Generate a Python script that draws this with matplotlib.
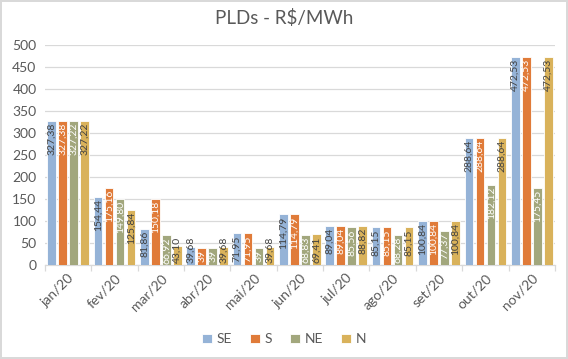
import numpy as np
import matplotlib
matplotlib.use("Agg")
import matplotlib.pyplot as plt

months = ["jan/20", "fev/20", "mar/20", "abr/20", "mai/20", "jun/20",
          "jul/20", "ago/20", "set/20", "out/20", "nov/20"]
series_names = ["SE", "S", "NE", "N"]
se = [327.38, 154.44, 81.86, 39.68, 71.95, 114.79, 89.04, 85.15, 100.84, 288.64, 472.53]
s = [327.38, 175.16, 150.18, 39.00, 71.95, 114.79, 89.04, 85.15, 100.84, 288.64, 472.53]
ne = [327.22, 149.80, 66.92, 39.00, 39.00, 68.83, 85.56, 68.28, 77.37, 182.12, 175.45]
n = [327.22, 125.84, 43.10, 39.68, 39.68, 69.41, 88.82, 85.15, 100.84, 288.64, 472.53]

colors = ["#95B3D7", "#E07B39", "#A2A77D", "#D9B25B"]
label_colors = ["#404040", "white", "white", "#404040"]
grey = "#595959"

plt.rcParams["font.family"] = ["Lato", "DejaVu Sans"]

fig = plt.figure(figsize=(5.68, 3.59), dpi=100)
fig.patch.set_edgecolor("#D9D9D9")
fig.patch.set_linewidth(1.5)
ax = fig.add_axes([0.079, 0.262, 0.898, 0.613])

x = np.arange(len(months))
step = 0.237
width = 0.185
px_per_unit = 220 / 500.0  # vertical pixels per data unit

for i, (name, vals) in enumerate(zip(series_names, [se, s, ne, n])):
    pos = x + (i - 1.5) * step
    ax.bar(pos, vals, width=width, color=colors[i], edgecolor="white",
           linewidth=0.6, label=name, zorder=3)
    for xp, v in zip(pos, vals):
        txt = f"{v:.2f}".replace(".", ",").replace(",00", "")
        text_len = (len(txt) * 5.0) / px_per_unit
        pad = 2.0 / px_per_unit
        if v - pad - text_len < pad:
            ax.text(xp, pad, txt, rotation=90, ha="center", va="bottom",
                    fontsize=7.5, color=label_colors[i], zorder=4)
        else:
            ax.text(xp, v - pad, txt, rotation=90, ha="center", va="top",
                    fontsize=7.5, color=label_colors[i], zorder=4)

ax.set_ylim(0, 500)
ax.set_xlim(-0.5, len(months) - 0.5)
ax.set_yticks(np.arange(0, 501, 50))
ax.yaxis.grid(True, color="#D9D9D9", linewidth=0.9, zorder=0)
ax.tick_params(axis="y", length=0, labelsize=10, labelcolor=grey, pad=6)

ax.set_xticks(x)
ax.set_xticklabels(months, rotation=45, ha="right", va="top",
                   rotation_mode="anchor", fontsize=10, color=grey)
ax.tick_params(axis="x", which="major", length=0, pad=5)
ax.set_xticks(np.arange(-0.5, len(months), 1.0), minor=True)
ax.tick_params(axis="x", which="minor", length=4, color="#D9D9D9", width=0.9)

for side in ["left", "right", "top"]:
    ax.spines[side].set_visible(False)
ax.spines["bottom"].set_color("#D9D9D9")
ax.spines["bottom"].set_linewidth(0.9)

fig.suptitle("PLDs - R$/MWh", x=0.5, y=0.975, fontsize=13.5, color=grey)

fig.legend(loc="center", bbox_to_anchor=(0.5, 0.055), ncol=4, frameon=False,
           fontsize=10, handlelength=0.7, handleheight=0.7, handletextpad=0.35,
           columnspacing=1.3, labelcolor=grey)

fig.savefig("out.png", dpi=100)
